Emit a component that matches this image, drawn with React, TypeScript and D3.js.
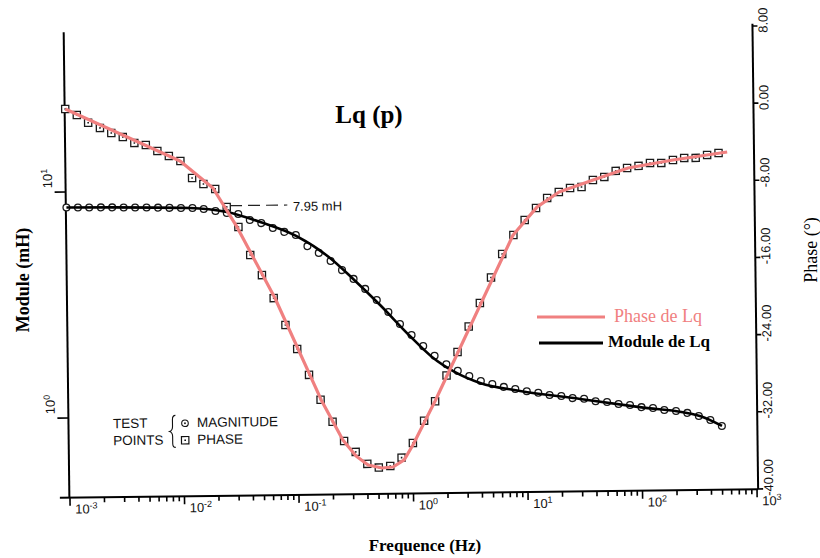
import React from "react";
import * as d3 from "d3";

// Test-point frequencies (Hz), 10 per decade
const testFreqs = [
  0.001, 0.00126, 0.00158, 0.002, 0.00251, 0.00316, 0.00398, 0.00501, 0.00631, 0.00794,
  0.01, 0.0126, 0.0158, 0.02, 0.0251, 0.0316, 0.0398, 0.0501, 0.0631, 0.0794,
  0.1, 0.126, 0.158, 0.2, 0.251, 0.316, 0.398, 0.501, 0.631, 0.794,
  1, 1.26, 1.58, 2, 2.51, 3.16, 3.98, 5.01, 6.31, 7.94,
  10, 12.6, 15.8, 20, 25.1, 31.6, 39.8, 50.1, 63.1, 79.4,
  100, 126, 158, 200, 251, 316, 398, 501,
];

// Magnitude test points (mH)
const magnitudePoints = [
  8.54, 8.53, 8.52, 8.51, 8.5, 8.48, 8.47, 8.45, 8.43, 8.4,
  8.37, 8.36, 8.27, 8.09, 7.91, 7.82, 7.35, 7.11, 6.75, 6.48,
  6.27, 5.59, 5.21, 4.79, 4.36, 3.98, 3.59, 3.2, 2.83, 2.5,
  2.23, 1.99, 1.8, 1.65, 1.54, 1.46, 1.385, 1.34, 1.3, 1.27,
  1.24, 1.22, 1.19, 1.177, 1.15, 1.14, 1.11, 1.1, 1.077, 1.065,
  1.04, 1.03, 1.007, 0.996, 0.975, 0.944, 0.905, 0.85,
];

// Phase test points (degrees)
const phasePoints = [
  0.27, -0.37, -1.19, -1.74, -2.28, -2.71, -3.34, -3.57, -4.2, -4.73,
  -5.27, -7.05, -7.68, -8.21, -10.09, -12.18, -15.1, -17.2, -19.6, -22.4,
  -24.9, -27.6, -30.2, -32.5, -34.5, -35.65, -36.9, -37.3, -37.15, -36.3,
  -34.8, -32.5, -30.5, -27.84, -25.42, -22.79, -20.37, -17.74, -15.32, -13.36,
  -11.82, -10.59, -9.57, -8.96, -8.56, -8.47, -7.76, -7.46, -6.85, -6.56,
  -6.36, -6.07, -6.08, -5.79, -5.59, -5.6, -5.31, -5.12,
];

// "Phase de Lq" traced curve
const phaseLineFreqs = [
  0.001, 0.00993, 0.0191, 0.0307, 0.0647, 0.16, 0.245, 0.318, 0.404, 0.535, 0.667,
  0.836, 1.0, 1.58, 7.89, 12.9, 20.1, 40.0, 80.9, 200, 596,
];
const phaseLineValues = [
  0.27, -5.27, -8.11, -12.18, -19.59, -30.22, -34.4, -36.07, -37.02, -37.35, -37.26,
  -36.54, -35.0, -30.47, -13.36, -10.48, -8.96, -7.76, -6.56, -5.79, -5.03,
];

// "Module de Lq" traced curve
const moduleLineFreqs = [
  0.001, 0.012, 0.0252, 0.0489, 0.1005, 0.1977, 0.307, 0.535, 0.966, 1.5,
  2.377, 3.917, 8.74, 29.17, 96.4, 322.8, 502.3,
];
const moduleLineValues = [
  8.54, 8.37, 7.99, 7.19, 6.21, 4.94, 4.02, 3.04, 2.21, 1.78,
  1.52, 1.357, 1.245, 1.139, 1.04, 0.944, 0.85,
];

const decadeTicks = [0.001, 0.01, 0.1, 1, 10, 100, 1000];
const decadeLabels = ["-3", "-2", "-1", "0", "1", "2", "3"];
const magnitudeTicks = [1, 10];
const magnitudeLabels = ["0", "1"];
const phaseTicks = [8, 0, -8, -16, -24, -32, -40];
const phaseLabels = ["8.00", "0.00", "-8.00", "-16.00", "-24.00", "-32.00", "-40.00"];

const PINK = "#f08080";
const SANS = "'Liberation Sans', Arial, sans-serif";
const SERIF = "'Liberation Serif', 'Times New Roman', serif";

export default function App() {
  const L = 66.5;
  const R = 755.3;
  const top = 28;
  const bottom = 493.5;

  const x = d3.scaleLog().domain([1e-3, 1e3]).range([67.1, 754.2]);
  const yMag = d3.scaleLog().domain([1, 10]).range([413.8, 187.8]);
  const yPh = d3.scaleLinear().domain([-40, 8]).range([493.2, 30.2]);

  const phaseLine = d3
    .line<number>()
    .x((_, i) => x(phaseLineFreqs[i]))
    .y((d) => yPh(d))
    .curve(d3.curveLinear)(phaseLineValues);

  const moduleLine = d3
    .line<number>()
    .x((_, i) => x(moduleLineFreqs[i]))
    .y((d) => yMag(d))
    .curve(d3.curveMonotoneX)(moduleLineValues);

  const allTicks = x.ticks();
  const isMajor = (t: number) => Math.abs(Math.log10(t) - Math.round(Math.log10(t))) < 1e-6;

  return (
    <svg
      width={820}
      height={558}
      style={{ position: "absolute", left: 0, top: 0, display: "block" }}
    >
      <rect x={0} y={0} width={820} height={558} fill="#fff" />
      <g transform="rotate(-0.7 410 260)">
        {/* axes */}
        <line x1={L} y1={top} x2={L} y2={bottom} stroke="#000" strokeWidth={2} />
        <line x1={57} y1={bottom} x2={R} y2={bottom} stroke="#000" strokeWidth={2} />
        <line x1={R} y1={top} x2={R} y2={bottom} stroke="#000" strokeWidth={2} />

        {/* bottom ticks */}
        {allTicks.map((t, i) => (
          <line
            key={"bt" + i}
            x1={x(t)}
            x2={x(t)}
            y1={bottom}
            y2={bottom + (isMajor(t) ? 8 : 5)}
            stroke="#000"
            strokeWidth={1.6}
          />
        ))}
        {decadeTicks.map((t, i) => (
          <text
            key={"bl" + i}
            x={x(t) + 5}
            y={bottom + 16}
            fontFamily={SANS}
            fontSize={13}
            fill="#111"
          >
            10
            <tspan dy={-5} fontSize={9}>
              {decadeLabels[i]}
            </tspan>
          </text>
        ))}

        {/* left ticks */}
        {magnitudeTicks.map((t, i) => (
          <g key={"lt" + i}>
            <line x1={L - 11} x2={L} y1={yMag(t)} y2={yMag(t)} stroke="#000" strokeWidth={1.6} />
            <text
              transform={`translate(53,${yMag(t) - 4}) rotate(-90)`}
              fontFamily={SANS}
              fontSize={13}
              fill="#111"
            >
              10
              <tspan dy={-5} fontSize={9}>
                {magnitudeLabels[i]}
              </tspan>
            </text>
          </g>
        ))}

        {/* right ticks */}
        {phaseTicks.map((t, i) => (
          <g key={"rt" + i}>
            <line x1={R} x2={R + 5} y1={yPh(t)} y2={yPh(t)} stroke="#000" strokeWidth={1.6} />
            <text
              transform={`translate(${R + 15},${yPh(t) + 7}) rotate(-90)`}
              fontFamily={SANS}
              fontSize={13}
              fill="#111"
            >
              {phaseLabels[i]}
            </text>
          </g>
        ))}

        {/* annotation */}
        <line
          x1={230.7}
          x2={288}
          y1={203.5}
          y2={203.5}
          stroke="#222"
          strokeWidth={1.2}
          strokeDasharray="12,6"
        />
        <text x={293.5} y={209.5} fontFamily={SANS} fontSize={13} fill="#111">
          7.95 mH
        </text>

        {/* test points legend */}
        <text x={111} y={424.5} fontFamily={SANS} fontSize={13.5} fill="#111">
          TEST
        </text>
        <text x={111} y={441.5} fontFamily={SANS} fontSize={13.5} fill="#111">
          POINTS
        </text>
        <path
          d="M173.5,412.5 q-3,0 -3,4 l0,7 q0,4 -3,5 q3,1 3,5 l0,7 q0,4 3,4"
          fill="none"
          stroke="#111"
          strokeWidth={1.1}
        />
        <circle cx={183} cy={420.5} r={3.3} fill="#fff" stroke="#111" strokeWidth={1.1} />
        <circle cx={183} cy={420.5} r={0.9} fill="#111" />
        <text x={195} y={424.5} fontFamily={SANS} fontSize={13.5} fill="#111">
          MAGNITUDE
        </text>
        <rect x={179.3} y={433.8} width={7.4} height={7.4} fill="#fff" stroke="#111" strokeWidth={1.2} />
        <rect x={182.2} y={436.7} width={1.6} height={1.6} fill="#111" />
        <text x={195} y={441.5} fontFamily={SANS} fontSize={13.5} fill="#111">
          PHASE
        </text>

        {/* phase test points */}
        {testFreqs.map((f, i) => (
          <g key={"ps" + i}>
            <rect
              x={x(f) - 3.6}
              y={yPh(phasePoints[i]) - 3.6}
              width={7.2}
              height={7.2}
              fill="#fff"
              stroke="#1a1a1a"
              strokeWidth={1.3}
            />
            <rect
              x={x(f) - 0.8}
              y={yPh(phasePoints[i]) - 0.8}
              width={1.6}
              height={1.6}
              fill="#1a1a1a"
            />
          </g>
        ))}

        {/* magnitude test points */}
        {testFreqs.map((f, i) => (
          <circle
            key={"mc" + i}
            cx={x(f)}
            cy={yMag(magnitudePoints[i])}
            r={3.4}
            fill="#fff"
            stroke="#1a1a1a"
            strokeWidth={1.3}
          />
        ))}

        {/* traced curves */}
        <path d={moduleLine || ""} fill="none" stroke="#000" strokeWidth={2.6} />
        <path d={phaseLine || ""} fill="none" stroke={PINK} strokeWidth={3.2} strokeLinejoin="round" />
      </g>

      {/* digital overlays */}
      <text x={369} y={123} textAnchor="middle" fontFamily={SERIF} fontWeight="bold" fontSize={25} fill="#000">
        Lq (p)
      </text>
      <text
        transform="translate(29,280) rotate(-90)"
        textAnchor="middle"
        fontFamily={SERIF}
        fontWeight="bold"
        fontSize={18}
        fill="#000"
      >
        Module (mH)
      </text>
      <text
        transform="translate(817,250) rotate(-90)"
        textAnchor="middle"
        fontFamily={SERIF}
        fontSize={18}
        fill="#000"
      >
        Phase (°)
      </text>
      <text x={425} y={551} textAnchor="middle" fontFamily={SERIF} fontWeight="bold" fontSize={17} fill="#000">
        Frequence (Hz)
      </text>

      {/* legend */}
      <line x1={537} x2={605} y1={317} y2={317} stroke={PINK} strokeWidth={3} />
      <text x={614} y={322} fontFamily={SERIF} fontSize={18} fill={PINK}>
        Phase de Lq
      </text>
      <line x1={539} x2={603} y1={343} y2={343} stroke="#000" strokeWidth={3} />
      <text x={608} y={347} fontFamily={SERIF} fontWeight="bold" fontSize={17} fill="#000">
        Module de Lq
      </text>
    </svg>
  );
}
